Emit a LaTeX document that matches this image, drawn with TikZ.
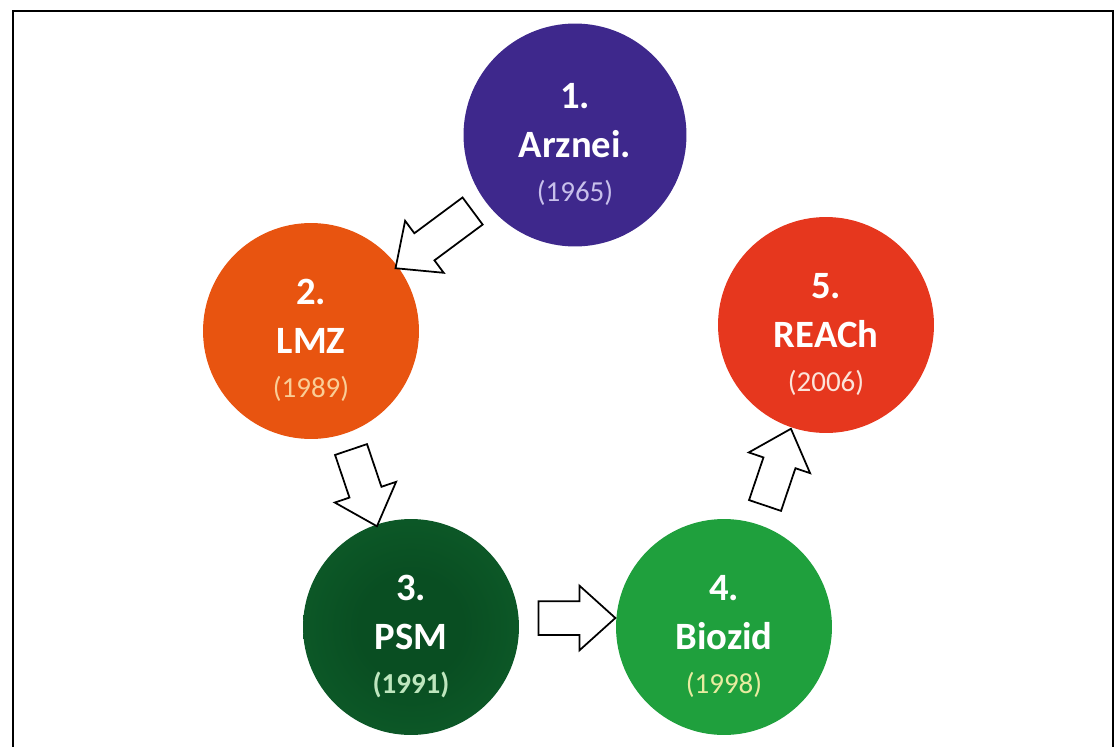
\documentclass[tikz,border=0pt]{standalone}
\usepackage{fontspec}
\setmainfont{Carlito}
\usetikzlibrary{shapes.arrows}
\definecolor{arzcol}{RGB}{62,40,140}
\definecolor{lmzcol}{RGB}{232,84,16}
\definecolor{psmin}{RGB}{9,78,34}
\definecolor{psmout}{RGB}{18,106,48}
\definecolor{biocol}{RGB}{31,160,61}
\definecolor{reachcol}{RGB}{230,55,30}
\definecolor{arzyr}{RGB}{200,192,235}
\definecolor{lmzyr}{RGB}{250,205,150}
\definecolor{psmyr}{RGB}{190,230,190}
\definecolor{bioyr}{RGB}{232,236,160}
\definecolor{reachyr}{RGB}{252,228,218}
\pgfdeclareradialshading{psmshade}{\pgfpoint{0bp}{0bp}}{color(0bp)=(psmin); color(12bp)=(psmin); color(50bp)=(psmout)}
\tikzset{
  stage/.style={circle, minimum size=4.32cm, inner sep=0pt, align=center, text=white,
    font=\bfseries\fontsize{22}{28}\selectfont},
  blockarrow/.style={single arrow, draw=black, fill=white, line width=1pt,
    inner xsep=0pt, inner ysep=0.32cm, single arrow head extend=0.31cm,
    single arrow tip angle=84, sloped, allow upside down},
}
\newcommand{\firstline}[1]{\rule{0pt}{25pt}#1}
\newcommand{\yearline}[2]{\\[-3pt]{\fontsize{16.5}{19}\selectfont\mdseries\color{#1}(#2)}}
\begin{document}
\begin{tikzpicture}[x=0.02cm,y=-0.02cm]
\useasboundingbox (0,0) rectangle (1117,747);
\draw[line width=0.8pt] (13,747) -- (13,11) -- (1113,11) -- (1113,747);
\node[stage, fill=arzcol, minimum size=4.46cm] (arz) at (575,135) {\firstline{1.}\\Arznei.\yearline{arzyr}{1965}};
\node[stage, fill=lmzcol] (lmz) at (311,331) {\firstline{2.}\\LMZ\yearline{lmzyr}{1989}};
\node[stage, shading=psmshade] (psm) at (411,627) {\firstline{3.}\\PSM\\[-3pt]{\fontsize{16.5}{19}\selectfont\color{psmyr}(1991)}};
\node[stage, fill=biocol] (bio) at (724,627) {\firstline{4.}\\Biozid\yearline{bioyr}{1998}};
\node[stage, fill=reachcol] (reach) at (826,325) {\firstline{5.}\\REACh\yearline{reachyr}{2006}};
\path (arz) -- node[blockarrow, minimum height=1.92cm] (a12) {} (lmz);
\path (lmz) -- node[blockarrow, minimum height=1.62cm] (a23) {} (psm);
\path (psm) -- node[blockarrow, minimum height=1.54cm, yshift=0.18cm] (a34) {} (bio);
\path (bio) -- node[blockarrow, minimum height=1.62cm] (a45) {} (reach);
\end{tikzpicture}
\end{document}
